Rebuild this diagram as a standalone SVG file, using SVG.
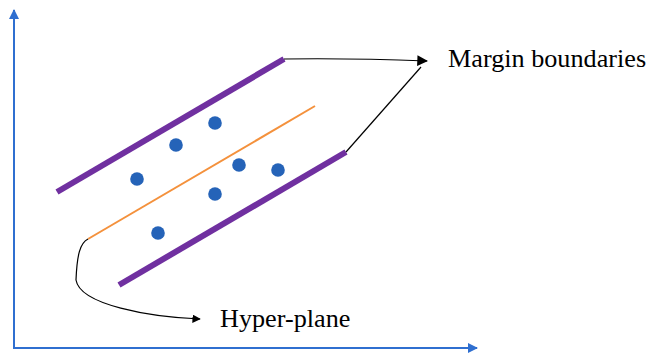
<svg xmlns="http://www.w3.org/2000/svg" width="648" height="354" viewBox="0 0 648 354">
<defs>
<style>
.axis{stroke:#2F6FD0;stroke-width:2;fill:none}
.margin{stroke:#7030A0;stroke-width:6;stroke-linecap:butt}
.hyper{stroke:#F4913C;stroke-width:2}
.dot{fill:#2563B8}
.conn{stroke:#000;stroke-width:1.2;fill:none}
.lbl{font-family:"Liberation Serif","Times New Roman",serif;font-size:26.2px;fill:#000}
</style>
<marker id="ab" viewBox="0 0 10 10" refX="9" refY="5" markerWidth="5" markerHeight="5" orient="auto" markerUnits="strokeWidth"><path d="M0,0 L10,5 L0,10 Z" fill="#2F6FD0"/></marker>
<marker id="ak" viewBox="0 0 10 10" refX="9" refY="5" markerWidth="7" markerHeight="7" orient="auto" markerUnits="strokeWidth"><path d="M0,0 L10,5 L0,10 Z" fill="#000"/></marker>
<marker id="ak2" viewBox="0 0 10 10" refX="9" refY="5" markerWidth="9" markerHeight="9" orient="auto" markerUnits="strokeWidth"><path d="M0,0 L10,5 L0,10 Z" fill="#000"/></marker>
</defs>
<g id="axes">
<line class="axis" x1="14" y1="348" x2="14" y2="10" marker-end="url(#ab)"/>
<line class="axis" x1="13" y1="348" x2="477" y2="348" marker-end="url(#ab)"/>
</g>
<g id="margin-upper"><line class="margin" x1="57" y1="192" x2="284" y2="59"/></g>
<g id="margin-lower"><line class="margin" x1="119" y1="285" x2="346" y2="152"/></g>
<g id="hyperplane"><line class="hyper" x1="88" y1="239" x2="315" y2="106"/></g>
<g id="points">
<circle class="dot" cx="215" cy="123" r="6.8"/>
<circle class="dot" cx="176" cy="145" r="6.8"/>
<circle class="dot" cx="137" cy="179" r="6.8"/>
<circle class="dot" cx="239" cy="165" r="6.8"/>
<circle class="dot" cx="278" cy="170" r="6.8"/>
<circle class="dot" cx="215" cy="194" r="6.8"/>
<circle class="dot" cx="158" cy="233" r="6.8"/>
</g>
<g id="connectors">
<path class="conn" d="M284,59 Q350,58 427,61" marker-end="url(#ak2)"/>
<path class="conn" d="M346,152 L421,67"/>
<path class="conn" d="M88,239 C80,243 77,255 76,280 C80,305 150,317 200,319" marker-end="url(#ak)"/>
</g>
<g id="label-margin"><text class="lbl" x="448" y="67">Margin boundaries</text></g>
<g id="label-hyper"><text class="lbl" x="220" y="327">Hyper-plane</text></g>
</svg>
